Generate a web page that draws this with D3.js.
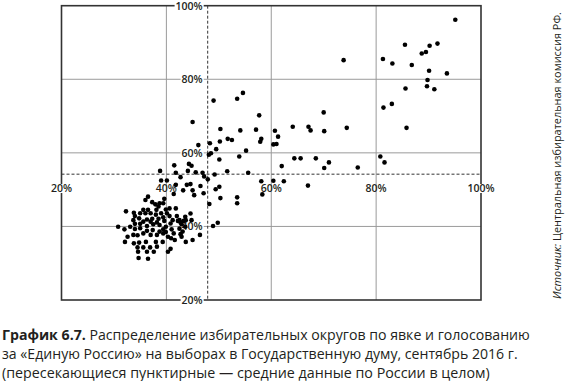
<!DOCTYPE html>
<html><head><meta charset="utf-8">
<script src="https://cdn.jsdelivr.net/npm/d3@7"></script>
<style>
html,body{margin:0;padding:0;background:#fff;}
svg{display:block;}
</style></head>
<body>
<svg id="chart" width="568" height="381"></svg>
<script>
// Turnout (%) per electoral district
const turnout = [
95.1,85.5,90.2,91.7,88.7,89.5,81.3,83.1,86.8,90.1,93.5,89.8,85.6,89.7,91.1,83.0,81.4,85.8,73.8,70.0,
64.1,67.1,67.5,70.1,74.4,80.8,81.6,64.4,65.6,68.5,71.0,70.1,76.5,67.0,54.6,53.5,49.0,45.0,57.7,50.3,
54.1,57.1,60.7,51.7,52.5,50.2,48.3,58.1,57.9,61.3,61.0,60.4,46.1,49.5,48.5,48.1,55.2,50.1,53.9,62.0,
51.6,55.6,49.2,47.9,58.1,60.4,62.4,50.1,49.4,58.3,50.3,53.5,53.5,48.2,48.9,49.8,38.8,41.5,44.3,44.8,
41.8,44.1,45.6,46.9,42.7,47.2,39.0,40.1,41.8,43.9,44.6,46.5,43.2,45.0,41.4,45.3,47.1,
36.5,36.0,37.3,37.9,38.7,39.6,39.4,38.5,39.9,40.6,41.8,38.1,36.5,35.6,35.0,36.0,37.0,39.0,40.1,38.0,
32.3,33.8,34.0,34.8,36.3,37.3,38.5,39.4,40.6,42.0,43.6,44.6,41.2,42.5,43.7,44.8,33.7,35.6,37.0,38.2,
39.6,40.8,42.2,42.7,42.9,43.3,34.0,35.0,37.5,38.7,39.9,30.8,32.0,33.1,34.0,35.0,36.3,36.3,37.4,38.7,
39.4,39.9,41.0,41.4,42.5,43.1,43.6,32.6,33.7,34.5,35.6,37.0,38.2,39.4,40.3,40.9,41.6,42.7,42.9,46.4,
45.0,43.7,32.1,33.8,34.8,36.1,38.0,39.3,34.5,35.6,36.9,38.2,40.8,34.6,36.3,37.6,40.3,34.7,36.5
];
// Vote share for United Russia (%) per district
const share = [
96.2,89.4,89.1,89.7,87.0,87.4,85.5,84.3,83.9,82.3,81.6,79.8,77.5,78.1,77.3,73.3,72.3,66.8,85.2,71.0,
67.1,67.1,66.1,65.9,66.8,59.0,57.4,58.5,58.5,58.5,57.4,55.9,56.0,51.1,76.3,74.7,74.2,68.4,70.2,66.5,
66.1,66.3,66.0,63.8,63.5,63.1,62.6,63.8,63.0,64.4,62.4,62.3,62.1,61.0,59.9,59.5,60.6,58.2,59.0,56.4,
55.0,54.6,54.1,52.8,52.3,52.4,52.3,50.8,50.1,48.7,47.7,47.9,46.3,46.1,40.1,41.0,55.1,56.6,57.0,56.5,
54.6,55.1,54.7,54.6,53.4,53.6,52.5,52.5,51.3,51.3,51.5,51.0,49.8,49.8,48.8,48.5,49.0,
48.1,47.2,46.6,46.0,46.3,47.5,46.3,45.4,44.6,44.9,44.9,44.5,44.5,44.5,43.6,43.6,43.6,43.6,43.6,43.2,
44.1,43.7,42.8,42.2,41.9,42.1,42.1,42.5,42.8,42.8,42.6,43.5,41.7,41.7,41.7,41.7,41.7,41.3,41.3,41.1,
41.5,40.8,41.5,41.1,40.6,41.5,40.7,40.7,40.6,40.4,39.9,39.9,39.2,39.9,39.3,39.5,40.1,38.8,39.0,38.6,
39.2,38.5,39.2,38.1,39.4,38.6,39.9,37.2,37.7,37.6,38.1,37.7,37.7,38.1,37.2,36.8,36.3,37.9,37.2,37.7,
36.3,35.8,35.8,35.4,35.6,35.8,35.8,35.8,34.3,34.3,34.3,34.5,33.9,33.1,33.1,33.1,33.1,31.4,31.2
];
const tickValues = [20, 40, 60, 80, 100];
const tickLabels = ["20%", "40%", "60%", "80%", "100%"];
const meanTurnout = [47.88];
const meanShare = [54.2];
const captionBold = "График 6.7.";
const captionLines = [
  " Распределение избирательных округов по явке и голосованию",
  "за «Единую Россию» на выборах в Государственную думу, сентябрь 2016 г.",
  "(пересекающиеся пунктирные — средние данные по России в целом)"
];
const sourceItalic = "Источник:";
const sourceRest = " Центральная избирательная комиссия РФ.";

const svg = d3.select("#chart");
const x = d3.scaleLinear().domain([20, 100]).range([61.5, 481]);
const y = d3.scaleLinear().domain([20, 100]).range([300, 5.7]);
const ink = "#231f20";
const labelFont = "'Open Sans', 'Noto Sans', sans-serif";

// grid
const g = svg.append("g");
g.selectAll("line.vg").data(tickValues.slice(1, 4)).join("line")
  .attr("x1", d => x(d)).attr("x2", d => x(d)).attr("y1", y(100)).attr("y2", y(20))
  .attr("stroke", "#9a9a9a").attr("stroke-width", 1);
g.selectAll("line.hg").data(tickValues.slice(1, 4)).join("line")
  .attr("y1", d => y(d)).attr("y2", d => y(d)).attr("x1", x(20)).attr("x2", x(100))
  .attr("stroke", "#9a9a9a").attr("stroke-width", 1);

// mean dashed lines
g.append("line").attr("x1", x(meanTurnout[0])).attr("x2", x(meanTurnout[0]))
  .attr("y1", y(100)).attr("y2", y(20))
  .attr("stroke", "#333").attr("stroke-width", 1).attr("stroke-dasharray", "3,2");
g.append("line").attr("y1", y(meanShare[0])).attr("y2", y(meanShare[0]))
  .attr("x1", x(20)).attr("x2", x(100))
  .attr("stroke", "#333").attr("stroke-width", 1).attr("stroke-dasharray", "3,2");

// frame
g.append("rect").attr("x", x(20)).attr("y", y(100))
  .attr("width", x(100) - x(20)).attr("height", y(20) - y(100))
  .attr("fill", "none").attr("stroke", "#333").attr("stroke-width", 1.6);

// y labels (along mean turnout line)
const yl = svg.append("g");
tickValues.forEach((v, i) => {
  const t = yl.append("text").attr("x", x(meanTurnout[0]) - 5).attr("y", y(v) + 4)
    .attr("text-anchor", "end").attr("font-family", labelFont).attr("font-size", 10.5)
    .attr("font-weight", 600).attr("fill", ink).text(tickLabels[i]);
  const b = t.node().getBBox();
  yl.insert("rect", "text").attr("x", b.x - 1).attr("y", y(v) - 4).attr("width", b.width + 2).attr("height", 8).attr("fill", "#fff");
});
// x labels (below mean share line)
const xl = svg.append("g");
tickValues.forEach((v, i) => {
  const t = xl.append("text").attr("x", x(v)).attr("y", 192)
    .attr("text-anchor", "middle").attr("font-family", labelFont).attr("font-size", 10.5)
    .attr("font-weight", 600).attr("fill", ink).text(tickLabels[i]);
  const b = t.node().getBBox();
  if (v === 20 || v === 100) {
    xl.insert("rect", "text").attr("x", b.x - 1).attr("y", 184).attr("width", b.width + 2).attr("height", 9).attr("fill", "#fff");
  }
});

// dots
svg.append("g").selectAll("circle").data(turnout.map((t, i) => [t, share[i]])).join("circle")
  .attr("cx", d => x(d[0])).attr("cy", d => y(d[1])).attr("r", 2.3).attr("fill", "#000");

// caption
const capFont = "'Open Sans', 'Noto Sans', sans-serif";
const capTargets = [530, 518, 490];
const capY = [340, 359, 378];
captionLines.forEach((line, i) => {
  const t = svg.append("text").attr("x", 2).attr("y", capY[i])
    .attr("font-family", capFont).attr("font-size", 14).attr("fill", ink);
  if (i === 0) t.append("tspan").attr("font-weight", 700).text(captionBold);
  t.append("tspan").text(line);
  const w = t.node().getComputedTextLength();
  const fs = 14 * (capTargets[i] - 2) / w;
  t.attr("font-size", fs.toFixed(2));
});

// source (rotated)
const s = svg.append("text").attr("transform", "translate(561,299) rotate(-90)")
  .attr("font-family", capFont).attr("font-size", 11).attr("fill", ink);
s.append("tspan").attr("font-style", "italic").text(sourceItalic);
s.append("tspan").text(sourceRest);
const sw = s.node().getComputedTextLength();
s.attr("font-size", (11 * 287 / sw).toFixed(2));
</script>
</body></html>
